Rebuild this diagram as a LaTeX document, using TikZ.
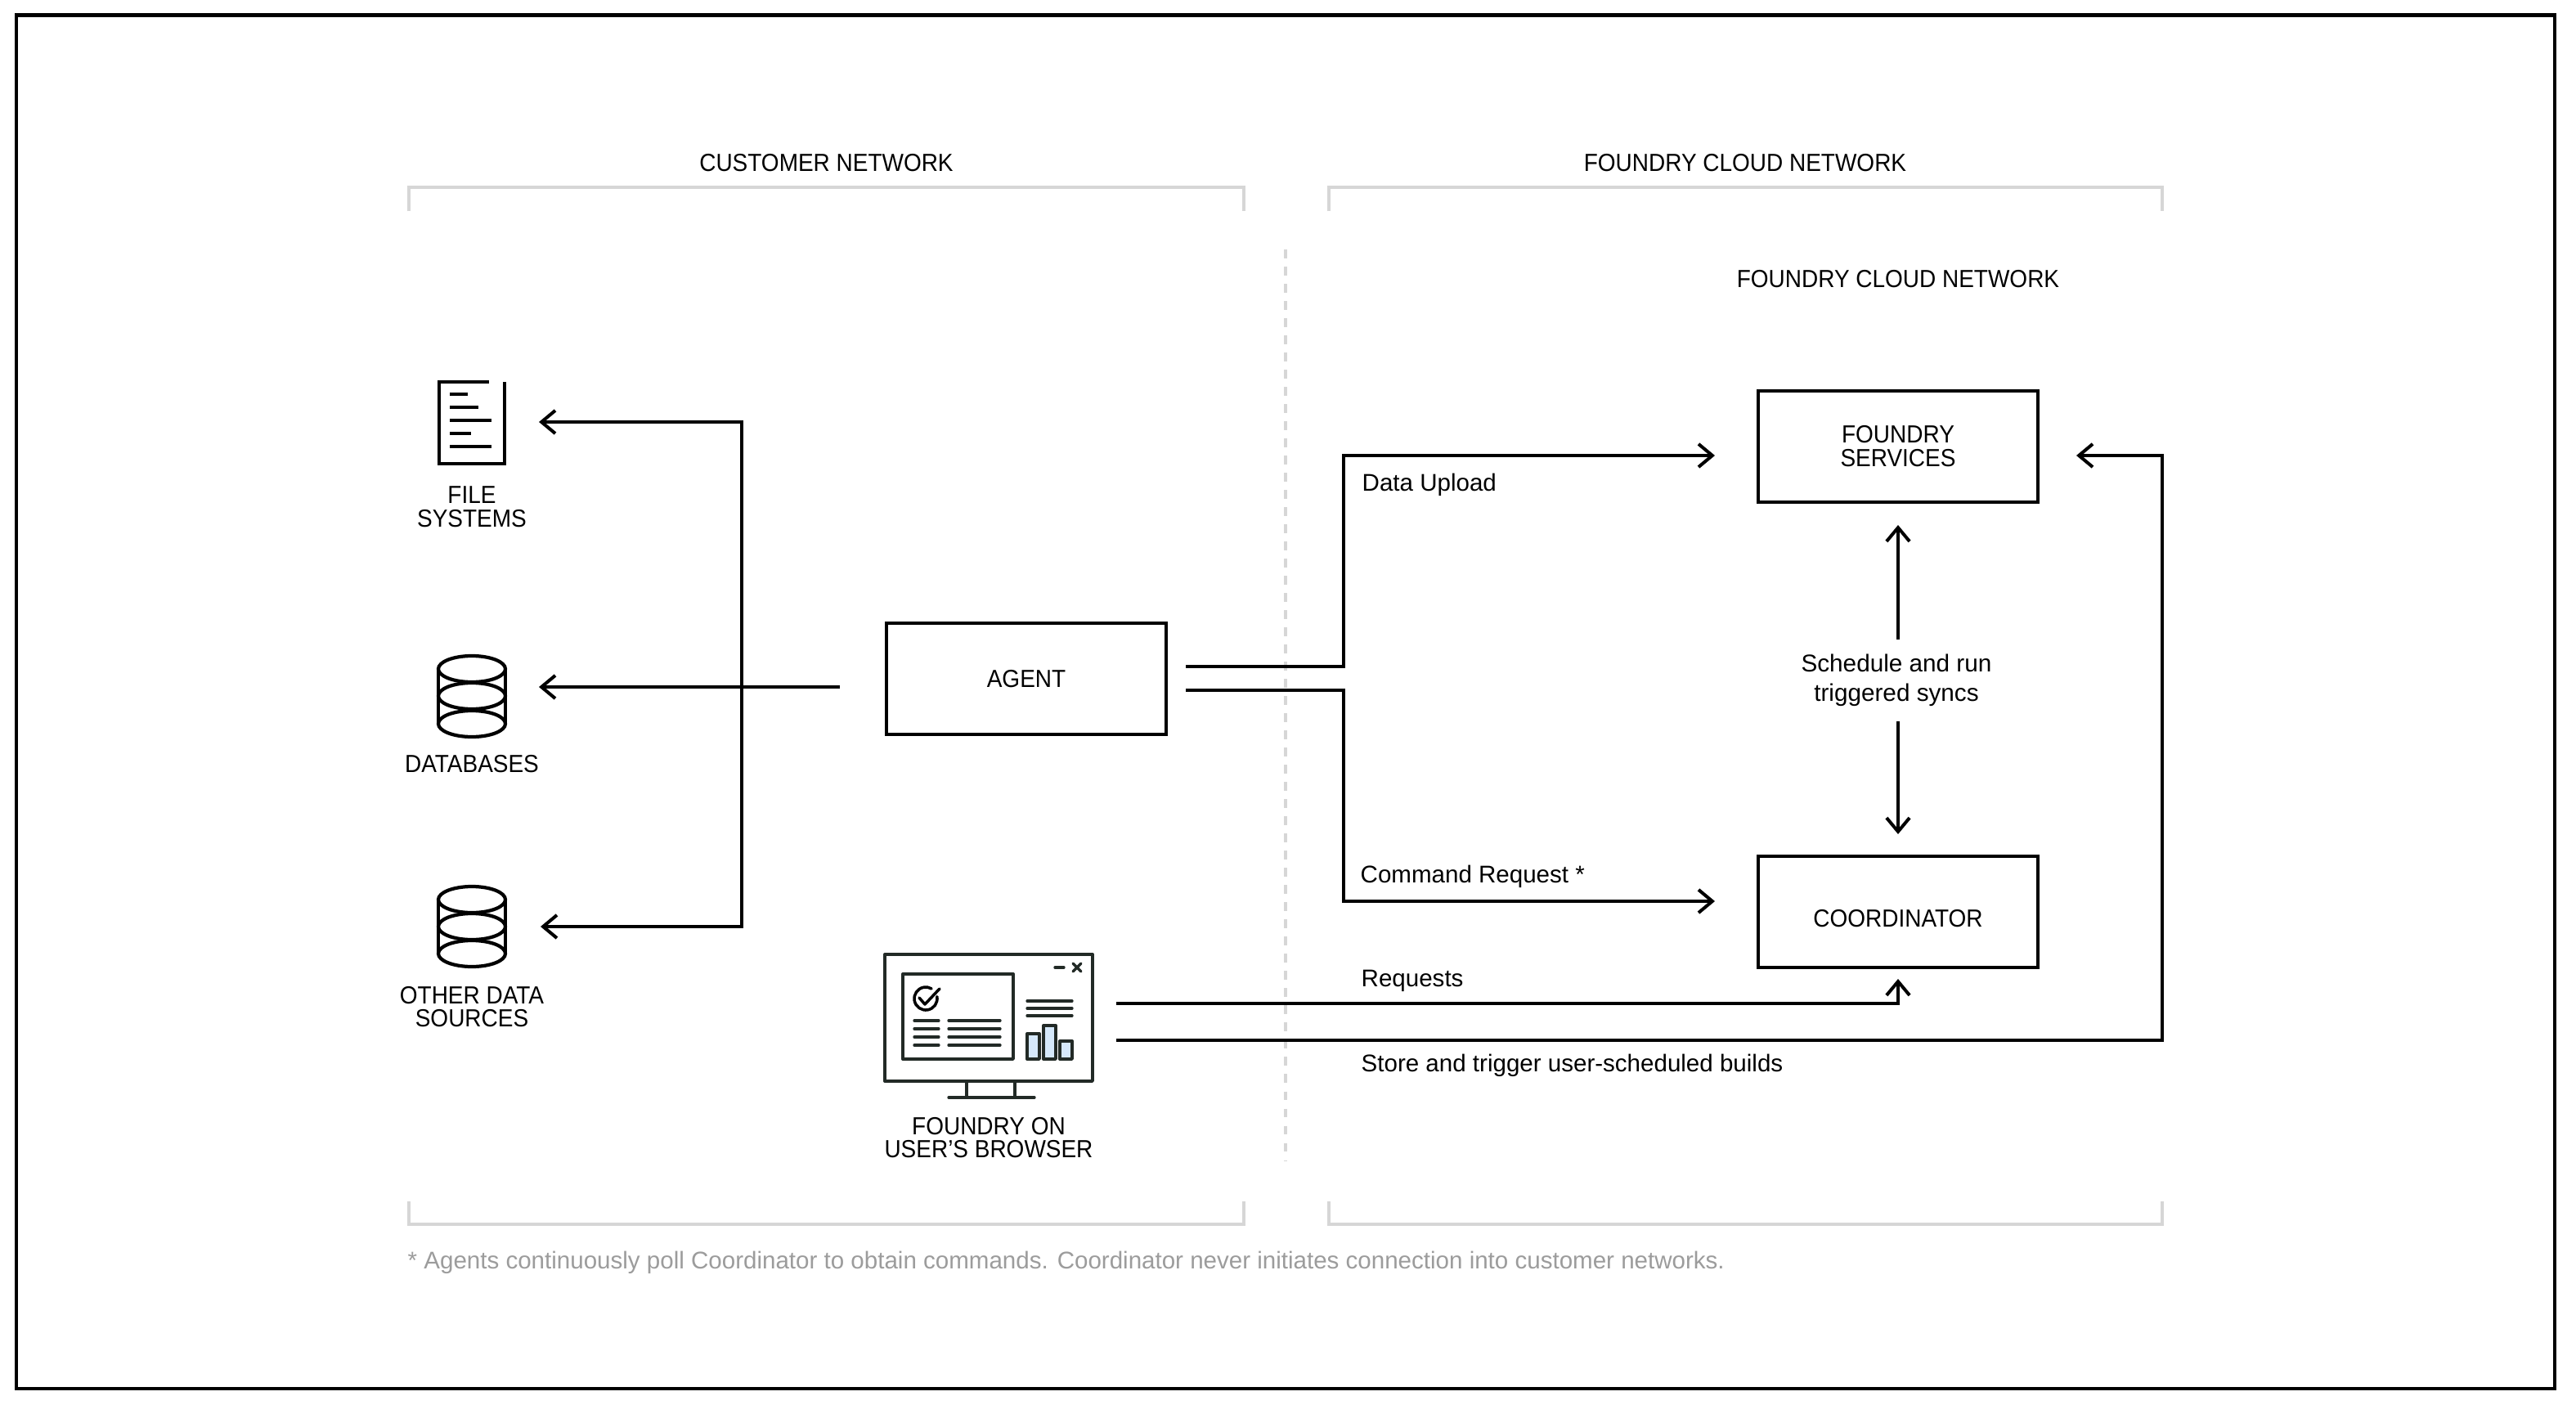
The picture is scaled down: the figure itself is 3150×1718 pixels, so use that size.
\documentclass[tikz,border=0pt]{standalone}
\usepackage{xcolor}
\usepackage{fontspec}
\setmainfont{Liberation Sans}
\newfontfamily\capsfont[FakeStretch=0.925]{Liberation Sans}
\usetikzlibrary{arrows.meta}

\definecolor{bracketgray}{HTML}{D6D6D6}
\definecolor{notegray}{HTML}{9C9C9C}
\definecolor{icondark}{HTML}{222A26}
\definecolor{barblue}{HTML}{D5E8FA}

\tikzset{
  conn/.style={line width=1.14pt,color=black},
  tip/.style={conn,-{Straight Barb[length=4.8pt,width=8pt,line width=1.14pt]}},
  box/.style={draw=black,line width=1.14pt,minimum width=3.42cm,minimum height=1.36cm,inner sep=0pt,
    align=center,font=\capsfont\fontsize{8.6}{8.2}\selectfont},
  caption/.style={inner sep=0pt,align=center,font=\capsfont\fontsize{8.6}{8.2}\selectfont},
  note/.style={inner sep=0pt,anchor=base west,font=\fontsize{8.4}{10}\selectfont},
  bracket/.style={line width=1.14pt,color=bracketgray},
  icon/.style={line width=1.2pt,color=black},
  screen/.style={line width=0.95pt,color=icondark,line cap=round,line join=round}
}

\begin{document}
\begin{tikzpicture}[x=0.01cm,y=-0.01cm]

  \useasboundingbox (0,0) rectangle (3150,1718);
  \fill[white] (0,0) rectangle (3150,1718);
  \draw[line width=1.14pt] (20,18.5) rectangle (3124,1698);

  % network brackets
  \draw[bracket] (500,258) -- (500,229) -- (1521,229) -- (1521,258);
  \draw[bracket] (1625,258) -- (1625,229) -- (2644,229) -- (2644,258);
  \draw[bracket] (500,1469) -- (500,1497) -- (1521,1497) -- (1521,1469);
  \draw[bracket] (1625,1469) -- (1625,1497) -- (2644,1497) -- (2644,1469);
  \draw[line width=1.25pt,color=bracketgray,dash pattern=on 10.5*0.2845pt off 10.5*0.2845pt] (1572,305) -- (1572,1420);

  \node[caption] (customertitle) at (1010.5,199) {CUSTOMER NETWORK};
  \node[caption] (cloudtitle) at (2134,199) {FOUNDRY CLOUD NETWORK};
  \node[caption] (innertitle) at (2321,341) {FOUNDRY CLOUD NETWORK};

  % file icon
  \draw[icon] (598,467) -- (537,467) -- (537,567) -- (617,567) -- (617,467);
  \draw[line width=1pt] (550,482) -- (572,482);
  \draw[line width=1pt] (550,498) -- (585,498);
  \draw[line width=1pt] (550,514) -- (601,514);
  \draw[line width=1pt] (550,530) -- (576,530);
  \draw[line width=1pt] (550,546) -- (601,546);
  \node[caption] (filelabel) at (577,620) {FILE\\SYSTEMS};

  % database icons
  \draw[icon] (536,818) -- (536,885);
  \draw[icon] (618,818) -- (618,885);
  \draw[icon,fill=white] (577,885) ellipse [x radius=41,y radius=16];
  \draw[icon,fill=white] (577,851) ellipse [x radius=41,y radius=16];
  \draw[icon,fill=white] (577,818) ellipse [x radius=41,y radius=16];
  \node[caption] (dblabel) at (577,934) {DATABASES};

  \draw[icon] (536,1100) -- (536,1166);
  \draw[icon] (618,1100) -- (618,1166);
  \draw[icon,fill=white] (577,1166) ellipse [x radius=41,y radius=16];
  \draw[icon,fill=white] (577,1133) ellipse [x radius=41,y radius=16];
  \draw[icon,fill=white] (577,1100) ellipse [x radius=41,y radius=16];
  \node[caption] (otherlabel) at (577,1231) {OTHER DATA\\SOURCES};

  % monitor icon
  \draw[screen] (1082,1167) rectangle (1336,1322);
  \draw[screen] (1182,1322) -- (1182,1342);
  \draw[screen] (1241,1322) -- (1241,1342);
  \draw[screen] (1160,1342) -- (1265,1342);
  \draw[screen] (1104,1191) rectangle (1239,1295);
  \draw[line width=1pt,line cap=round] (1145.8,1218.6) arc [start angle=-10,end angle=300,radius=14];
  \draw[line width=1pt,line cap=round,line join=round] (1124,1220) -- (1131,1228) -- (1149,1209);
  \draw[screen] (1118,1248) -- (1148,1248);
  \draw[screen] (1118,1258) -- (1148,1258);
  \draw[screen] (1118,1268) -- (1148,1268);
  \draw[screen] (1118,1278) -- (1148,1278);
  \draw[screen] (1160,1248) -- (1223,1248);
  \draw[screen] (1160,1258) -- (1223,1258);
  \draw[screen] (1160,1268) -- (1223,1268);
  \draw[screen] (1160,1278) -- (1223,1278);
  \draw[screen] (1256,1224) -- (1311,1224);
  \draw[screen] (1256,1233) -- (1311,1233);
  \draw[screen] (1256,1242) -- (1311,1242);
  \draw[screen,fill=barblue] (1256,1264) rectangle (1271,1295);
  \draw[screen,fill=barblue] (1276,1254) rectangle (1291,1295);
  \draw[screen,fill=barblue] (1296,1273) rectangle (1311,1295);
  \draw[screen] (1290,1183) -- (1301,1183);
  \draw[screen] (1312,1178) -- (1322,1188);
  \draw[screen] (1322,1178) -- (1312,1188);
  \node[caption] (browserlabel) at (1209,1391) {FOUNDRY ON\\USER’S BROWSER};

  % main boxes
  \node[box] (agent) at (1255,830) {AGENT};
  \node[box] (services) at (2321,546) {FOUNDRY\\SERVICES};
  \node[box,text height=10.8pt] (coordinator) at (2321,1115) {COORDINATOR};

  % free ends of the connectors
  \coordinate (hub) at (1027,840);
  \coordinate (filetip) at (659,516);
  \coordinate (dbtip) at (659,840);
  \coordinate (othertip) at (661,1133);
  \coordinate (uploadstart) at (1450,815);
  \coordinate (commandstart) at (1450,844);
  \coordinate (bendx) at (1643,0);
  \coordinate (servicestip) at (2097,557);
  \coordinate (coordtip) at (2097,1102);
  \coordinate (requeststart) at (1365,1227);
  \coordinate (storestart) at (1365,1272);
  \coordinate (rightx) at (2644,0);
  \coordinate (storetip) at (2539,557);
  \coordinate (schedup) at (2321,782);
  \coordinate (scheddown) at (2321,882);
  \coordinate (servicesbelow) at (2321,642);
  \coordinate (coordabove) at (2321,1020);
  \coordinate (coordbelow) at (2321,1197);

  % connectors
  \draw[tip] (907,516) -- (filetip);
  \draw[conn] (907,514) -- (907,1135);
  \draw[tip] (907,1133) -- (othertip);
  \draw[tip] (hub) -- (dbtip);
  \draw[tip] (uploadstart) -| (bendx |- servicestip) -- (servicestip);
  \draw[tip] (commandstart) -| (bendx |- coordtip) -- (coordtip);
  \draw[tip] (requeststart) -| (coordbelow);
  \draw[tip] (storestart) -| (rightx |- storetip) -- (storetip);
  \draw[tip] (schedup) -- (servicesbelow);
  \draw[tip] (scheddown) -- (coordabove);

  % labels
  \node[caption,font=\fontsize{8.45}{10.2}\selectfont] (schedlabel) at (2319,832) {Schedule and run\\triggered syncs};
  \node[note] (uploadlabel) at (1665,600) {Data Upload};
  \node[note] (commandlabel) at (1663,1079) {Command Request *};
  \node[note] (requestlabel) at (1664,1206) {Requests};
  \node[note] (storelabel) at (1664,1310) {Store and trigger user-scheduled builds};
  \node[note,text=notegray] (footnote) at (498,1551) {* Agents continuously poll Coordinator to obtain commands. Coordinator never initiates connection into customer networks.};
\end{tikzpicture}
\end{document}
